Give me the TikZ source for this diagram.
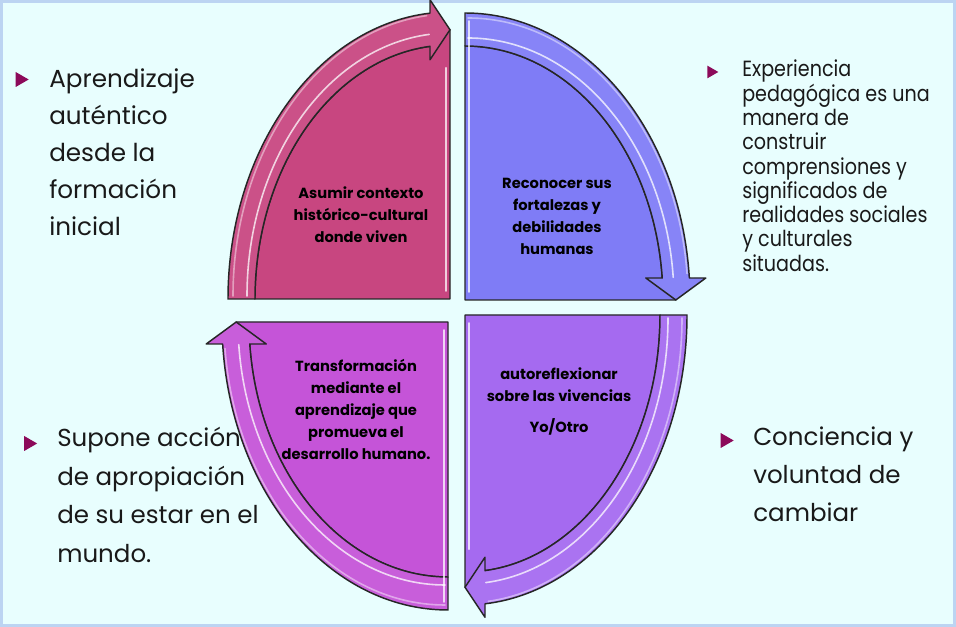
\documentclass[tikz,border=0pt]{standalone}
\usepackage{fontspec}
\setmainfont{Poppins}
\newfontfamily\narrowfont{Poppins}[FakeStretch=0.87]
\usetikzlibrary{shapes.geometric}

\definecolor{bgcyan}{RGB}{232,254,254}
\definecolor{framebl}{RGB}{188,212,242}
\definecolor{qpink}{RGB}{200,70,128}
\definecolor{qblue}{RGB}{127,124,246}
\definecolor{qviolet}{RGB}{165,106,240}
\definecolor{qorchid}{RGB}{197,84,216}
\definecolor{bulletred}{RGB}{140,10,90}

\tikzset{
	body/.style={fill=#1, draw=black!85, line width=1.1pt, line join=round},
	band/.style={fill=#1!94!white, draw=black!85, line width=1.1pt, line join=round},
	shine/.style={draw=white, opacity=0.75, line width=1.2pt, line cap=round},
	tag/.style={font=\bfseries\fontsize{11}{16.5}\selectfont, align=center, text=black},
	sidetext/.style={font=\fontsize{18.5}{27.75}\selectfont, align=left, anchor=north west, inner sep=0pt, text=black!90},
	bullet/.style={regular polygon, regular polygon sides=3, shape border rotate=-90, fill=bulletred, inner sep=0pt, minimum size=13pt}
}

% quarter with its arrow head on the vertical edge
\newcommand{\quarterA}[6]{%
	\begin{scope}[shift={#1}, xscale=#2, yscale=#3]
		\pgfmathsetmacro\rxin{#5-27}
		\pgfmathsetmacro\ryin{#6-33}
		\pgfmathsetmacro\angout{acos(20/#5)}
		\pgfmathsetmacro\angin{acos(20/\rxin)}
		\pgfmathsetmacro\yout{#6*sin(\angout)}
		\pgfmathsetmacro\yin{\ryin*sin(\angin)}
		\pgfmathsetmacro\ymid{(\yout+\yin)/2}
		\draw[body=#4] (0,0) -- (\rxin,0) arc[start angle=0, end angle=\angin, x radius=\rxin, y radius=\ryin] -- (0,\ymid) -- cycle;
		\draw[band=#4] (#5,0) arc[start angle=0, end angle=\angout, x radius=#5, y radius=#6]
			-- (20,\ymid+30) -- (0,\ymid) -- (20,\ymid-30) -- (20,\yin)
			arc[start angle=\angin, end angle=0, x radius=\rxin, y radius=\ryin] -- cycle;
		\draw[shine] (\rxin+8,3) arc[start angle=0, end angle=\angin, x radius=\rxin+8, y radius=\ryin+9];
		\draw[shine, opacity=0.45] (#5-5,3) arc[start angle=0, end angle=\angout-1, x radius=#5-5, y radius=#6-5];
		\draw[shine] (4,8) -- (4,\ymid-38);
	\end{scope}}

% quarter with its arrow head on the horizontal edge
\newcommand{\quarterB}[6]{%
	\begin{scope}[shift={#1}, xscale=#2, yscale=#3]
		\pgfmathsetmacro\rxin{#5-27}
		\pgfmathsetmacro\ryin{#6-33}
		\pgfmathsetmacro\angout{asin(22/#6)}
		\pgfmathsetmacro\angin{asin(22/\ryin)}
		\pgfmathsetmacro\xout{#5*cos(\angout)}
		\pgfmathsetmacro\xin{\rxin*cos(\angin)}
		\pgfmathsetmacro\xmid{(\xout+\xin)/2}
		\draw[body=#4] (0,0) -- (\xmid,0) -- (\xin,22) arc[start angle=\angin, end angle=90, x radius=\rxin, y radius=\ryin] -- cycle;
		\draw[band=#4] (0,#6) arc[start angle=90, end angle=\angout, x radius=#5, y radius=#6]
			-- (\xmid+30,22) -- (\xmid,0) -- (\xmid-30,22) -- (\xin,22)
			arc[start angle=\angin, end angle=90, x radius=\rxin, y radius=\ryin] -- cycle;
		\draw[shine] (3,\ryin+8) arc[start angle=90, end angle=\angin, x radius=\rxin+8, y radius=\ryin+8];
		\draw[shine, opacity=0.45] (3,#6-5) arc[start angle=90, end angle=\angout+1, x radius=#5-5, y radius=#6-5];
		\draw[shine] (4,8) -- (4,#6-8);
	\end{scope}}

\begin{document}
\begin{tikzpicture}[x=0.75pt, y=0.75pt]
	\useasboundingbox (0,0) rectangle (956,627);
	\fill[bgcyan] (0,0) rectangle (956,627);
	\draw[framebl, line width=2.2pt] (1.5,1.5) rectangle (954.5,625.5);

	% the four quarters
	\quarterA{(450,328)}{-1}{1}{qpink}{222}{287}
	\quarterB{(465,327)}{1}{1}{qblue}{225}{287}
	\quarterA{(465,312)}{1}{-1}{qviolet}{222}{290}
	\quarterB{(448,305)}{-1}{-1}{qorchid}{226}{288}

	\node[tag] (context) at (361,412) {Asumir contexto\\histórico-cultural\\donde viven};
	\node[tag] (strength) at (557,411) {Reconocer sus\\fortalezas y\\debilidades\\humanas};
	\node[tag] (reflect) at (559,225.5) {autoreflexionar\\sobre las vivencias\\[7pt]Yo/Otro};
	\node[tag] (change) at (356,218) {Transformación\\mediante el\\aprendizaje que\\promueva el\\desarrollo humano.};

	% side notes
	\node[bullet] (b1) at (20,547.5) {};
	\node[bullet, minimum size=11pt] (b2) at (711,555) {};
	\node[bullet] (b3) at (28.5,183.5) {};
	\node[bullet] (b4) at (725,186.5) {};
	\node[sidetext] (learn) at (49,558.3) {Aprendizaje\\auténtico\\desde la\\formación\\inicial};
	\node[sidetext, font=\narrowfont\fontsize{16.5}{18.2}\selectfont] (exper) at (742,567) {Experiencia\\pedagógica es una\\manera de\\construir\\comprensiones y\\significados de\\realidades sociales\\y culturales\\situadas.};
	\node[sidetext, font=\fontsize{18.4}{28.9}\selectfont] (appr) at (57,200) {Supone acción\\de apropiación\\de su estar en el\\mundo.};
	\node[sidetext, font=\fontsize{18.4}{28.5}\selectfont] (aware) at (753,200) {Conciencia y\\voluntad de\\cambiar};
\end{tikzpicture}
\end{document}
